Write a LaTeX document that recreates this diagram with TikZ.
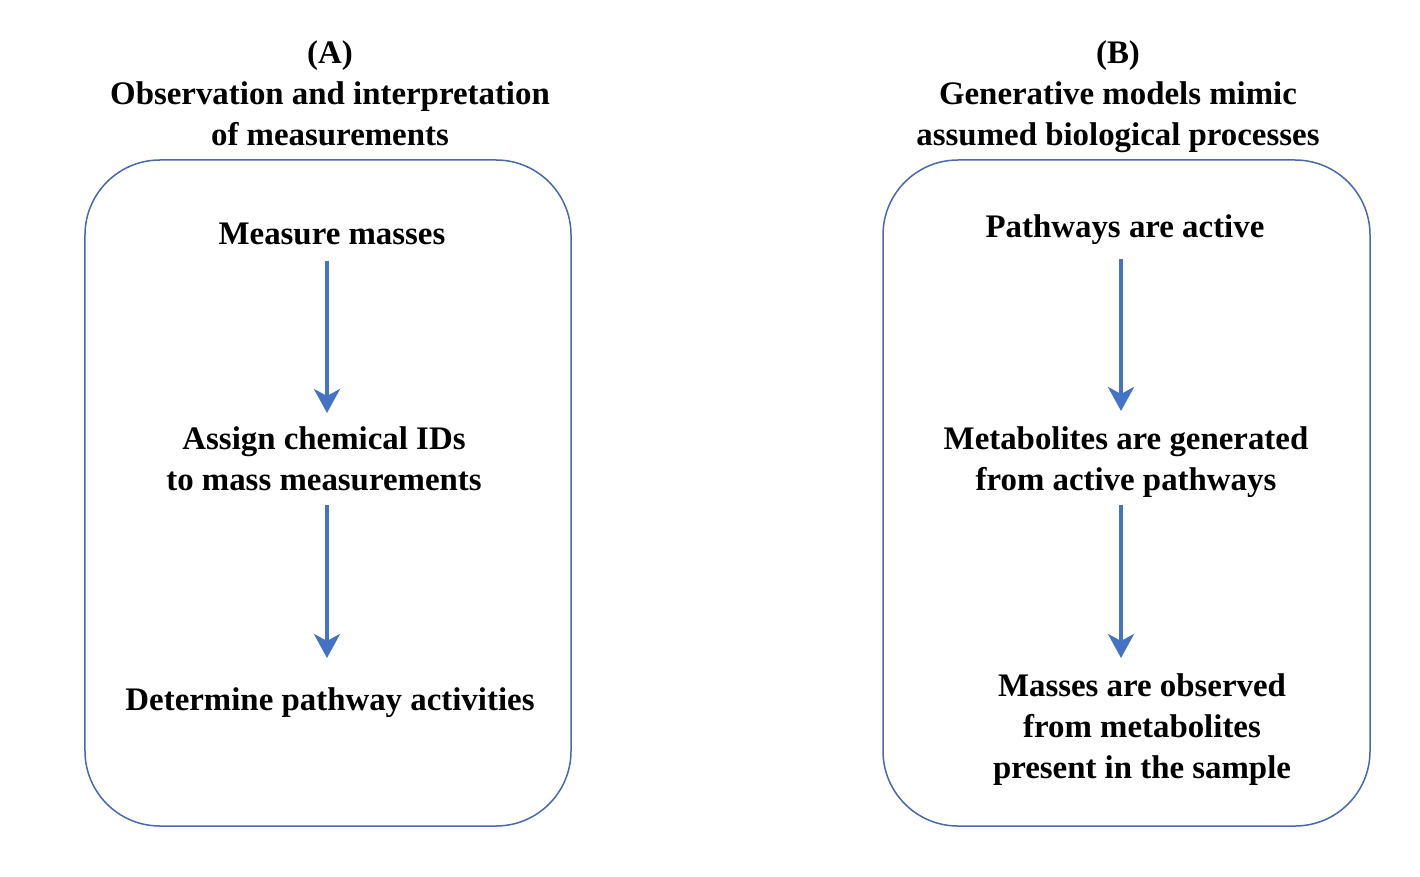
\documentclass[tikz,border=0pt]{standalone}
\usepackage{fontspec}
\setmainfont{Liberation Serif}
\usetikzlibrary{arrows.meta}
\definecolor{boxblue}{HTML}{4A68AC}
\definecolor{arrblue}{HTML}{4472C4}
\tikzset{
  panel/.style={draw=boxblue, line width=1.5bp, rounded corners=75bp},
  lbl/.style={font=\fontsize{33}{41}\selectfont\bfseries, align=center, inner sep=0pt, anchor=center},
  flow/.style={draw=arrblue, line width=4bp, -{Stealth[length=24bp,width=26bp,inset=7bp]}},
}
\begin{document}
\begin{tikzpicture}[x=1bp,y=-1bp]
\useasboundingbox (0,0) rectangle (1420,876);
% panel A
\node[panel, minimum width=486bp, minimum height=666bp] (boxA) at (328,493) {};
\node[lbl] (titA) at (330,96) {\strut(A)\\Observation and interpretation\\of measurements\strut};
\node[lbl] (a1) at (332,236) {\strut Measure masses};
\node[lbl] (a2) at (324,461.5) {\strut Assign chemical IDs\\to mass measurements\strut};
\node[lbl] (a3) at (330,702) {\strut Determine pathway activities};
\coordinate (a1s) at (327,261);
\coordinate (a1e) at (327,413);
\coordinate (a2s) at (327,505);
\coordinate (a2e) at (327,658);
\draw[flow] (a1s) -- (a1e);
\draw[flow] (a2s) -- (a2e);
% panel B
\node[panel, minimum width=487bp, minimum height=666bp] (boxB) at (1126.5,493) {};
\node[lbl] (titB) at (1118,96) {\strut(B)\\Generative models mimic\\assumed biological processes\strut};
\node[lbl] (b1) at (1125,229) {\strut Pathways are active};
\node[lbl] (b2) at (1126,461.5) {\strut Metabolites are generated\\from active pathways\strut};
\node[lbl] (b3) at (1142,729) {\strut Masses are observed\\from metabolites\\present in the sample\strut};
\coordinate (b1s) at (1121,259);
\coordinate (b1e) at (1121,411);
\coordinate (b2s) at (1121,505);
\coordinate (b2e) at (1121,658);
\draw[flow] (b1s) -- (b1e);
\draw[flow] (b2s) -- (b2e);
\end{tikzpicture}
\end{document}
